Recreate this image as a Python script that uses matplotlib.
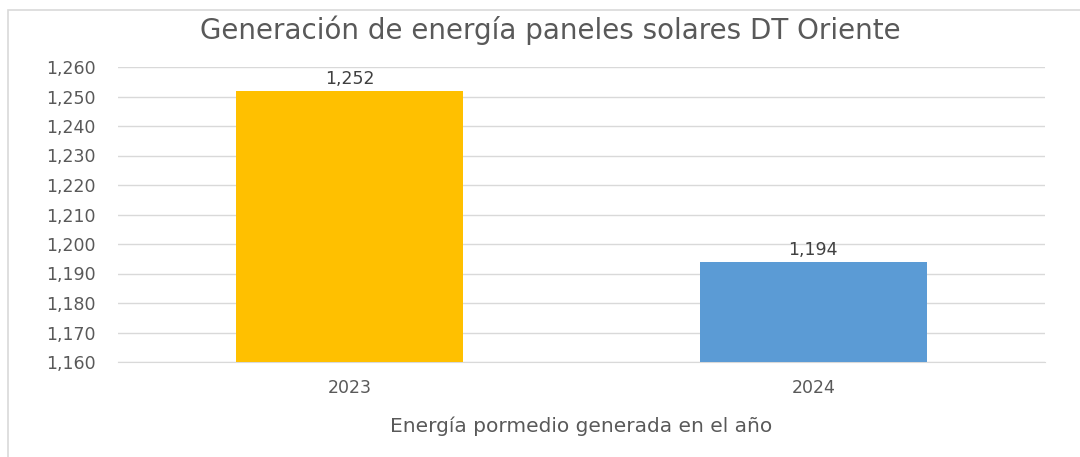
import matplotlib.pyplot as plt
import matplotlib.patches as mpatches
from matplotlib.ticker import FuncFormatter

years = ['2023', '2024']
energy = [1252, 1194]
colors = ['#FFC000', '#5B9BD5']
y_ticks = list(range(1160, 1261, 10))

W, H = 1080, 457
fig = plt.figure(figsize=(W / 100, H / 100), dpi=100)
plt.rcParams['font.family'] = ['DejaVu Sans']

# chart border
fig.patches.append(mpatches.Rectangle((8 / W, -0.1), 1.2, 1.1 - 10 / H, transform=fig.transFigure,
                                      fill=False, edgecolor='#d9d9d9', linewidth=1.2))

ax = fig.add_axes([118 / W, 1 - 362 / H, (1045 - 118) / W, (362 - 67) / H])
x = range(len(years))
bars = ax.bar(x, energy, width=0.49, color=colors, zorder=3)
ax.set_xlim(-0.5, len(years) - 0.5)
ax.set_ylim(y_ticks[0], y_ticks[-1])
ax.set_yticks(y_ticks)
ax.yaxis.set_major_formatter(FuncFormatter(lambda v, p: f'{int(v):,}'))
ax.set_xticks(list(x))
ax.set_xticklabels(years)
ax.grid(axis='y', color='#d9d9d9', linewidth=1, zorder=0)
for s in ['top', 'right', 'left']:
    ax.spines[s].set_visible(False)
ax.spines['bottom'].set_color('#d9d9d9')
ax.tick_params(axis='both', length=0, labelsize=12.5, colors='#595959')
ax.tick_params(axis='y', pad=16)
ax.tick_params(axis='x', pad=12)

for b, v in zip(bars, energy):
    ax.text(b.get_x() + b.get_width() / 2, v + 1, f'{v:,}', ha='center', va='bottom',
            fontsize=12.5, color='#404040')

fig.text(550 / W, 1 - 30 / H, 'Generación de energía paneles solares DT Oriente',
         ha='center', va='center', fontsize=20, color='#595959')
ax.set_xlabel('Energía pormedio generada en el año', fontsize=14.5, color='#595959', labelpad=14)

fig.savefig('out.png', dpi=100)
